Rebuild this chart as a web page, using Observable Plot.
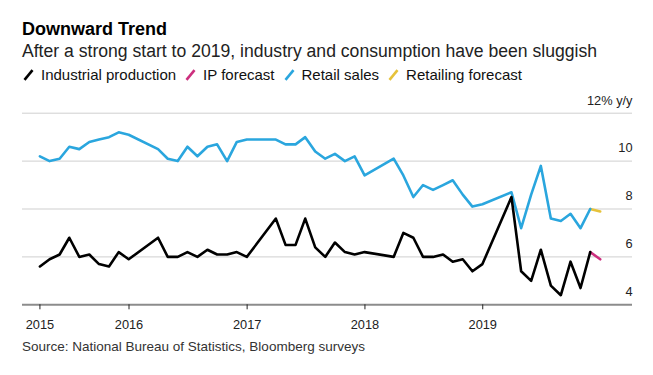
<!DOCTYPE html>
<html>
<head>
<meta charset="utf-8">
<script src="https://cdn.jsdelivr.net/npm/d3@7"></script>
<script src="https://cdn.jsdelivr.net/npm/@observablehq/plot@0.6"></script>
<style>
  body { margin: 0; background: #fff; font-family: "Liberation Sans", Arial, Helvetica, sans-serif; }
  #wrap { position: relative; width: 653px; height: 375px; overflow: hidden; background: #fff; }
  .t { position: absolute; left: 22px; white-space: nowrap; }
  #title { top: 19px; font-size: 18px; line-height: 20px; font-weight: bold; color: #000; }
  #subtitle { top: 40.5px; font-size: 17.6px; line-height: 20px; color: #222; }
  #legend { top: 66px; font-size: 15px; line-height: 18px; color: #111; display: flex; align-items: center; left: 23px; }
  #legend .item { display: flex; align-items: center; margin-right: 9px; }
  #legend svg { margin-right: 7px; }
  #chart { position: absolute; left: 0; top: 88px; }
  #source { top: 339px; font-size: 13.5px; line-height: 16px; color: #333; }
</style>
</head>
<body>
<div id="wrap">
  <div class="t" id="title">Downward Trend</div>
  <div class="t" id="subtitle">After a strong start to 2019, industry and consumption have been sluggish</div>
  <div class="t" id="legend"></div>
  <div id="chart"></div>
  <div class="t" id="source">Source: National Bureau of Statistics, Bloomberg surveys</div>
</div>
<script>
// Months (Jan/Feb not reported separately)
const months = [
  "2015-03","2015-04","2015-05","2015-06","2015-07","2015-08","2015-09","2015-10","2015-11","2015-12",
  "2016-03","2016-04","2016-05","2016-06","2016-07","2016-08","2016-09","2016-10","2016-11","2016-12",
  "2017-03","2017-04","2017-05","2017-06","2017-07","2017-08","2017-09","2017-10","2017-11","2017-12",
  "2018-03","2018-04","2018-05","2018-06","2018-07","2018-08","2018-09","2018-10","2018-11","2018-12",
  "2019-03","2019-04","2019-05","2019-06","2019-07","2019-08","2019-09","2019-10","2019-11"
];
const industrialProduction = [
  5.6,5.9,6.1,6.8,6.0,6.1,5.7,5.6,6.2,5.9,
  6.8,6.0,6.0,6.2,6.0,6.3,6.1,6.1,6.2,6.0,
  7.6,6.5,6.5,7.6,6.4,6.0,6.6,6.2,6.1,6.2,
  6.0,7.0,6.8,6.0,6.0,6.1,5.8,5.9,5.4,5.7,
  8.5,5.4,5.0,6.3,4.8,4.4,5.8,4.7,6.2
];
const retailSales = [
  10.2,10.0,10.1,10.6,10.5,10.8,10.9,11.0,11.2,11.1,
  10.5,10.1,10.0,10.6,10.2,10.6,10.7,10.0,10.8,10.9,
  10.9,10.7,10.7,11.0,10.4,10.1,10.3,10.0,10.2,9.4,
  10.1,9.4,8.5,9.0,8.8,9.0,9.2,8.6,8.1,8.2,
  8.7,7.2,8.6,9.8,7.6,7.5,7.8,7.2,8.0
];
const forecastMonths = ["2019-11","2019-12"];
const ipForecast = [6.2, 5.9];
const retailForecast = [8.0, 7.9];

const seriesNames = ["Industrial production","IP forecast","Retail sales","Retailing forecast"];
const seriesColors = ["#000000","#cc2f7e","#2aa6de","#e6c23a"];

const yTicks = [4, 6, 8, 10, 12];
const xTickLabels = ["2015","2016","2017","2018","2019"];

// month -> end-of-month date
const toDate = s => { const [y, m] = s.split("-").map(Number); return new Date(Date.UTC(y, m, 0)); };

const ipData = months.map((m, i) => ({date: toDate(m), value: industrialProduction[i]}));
const rsData = months.map((m, i) => ({date: toDate(m), value: retailSales[i]}));
const ipfData = forecastMonths.map((m, i) => ({date: toDate(m), value: ipForecast[i]}));
const rsfData = forecastMonths.map((m, i) => ({date: toDate(m), value: retailForecast[i]}));

const xTicks = xTickLabels.map((y, i) => i === 0 ? toDate(months[0]) : new Date(Date.UTC(+y, 0, 1)));

// legend
const legend = document.getElementById("legend");
seriesNames.forEach((name, i) => {
  const item = document.createElement("div");
  item.className = "item";
  item.innerHTML = `<svg width="11" height="12" viewBox="0 0 11 12"><line x1="1.5" y1="10.8" x2="9.5" y2="1.2" stroke="${seriesColors[i]}" stroke-width="2.6" stroke-linecap="butt"/></svg><span>${name}</span>`;
  legend.appendChild(item);
});

const chart = Plot.plot({
  width: 653,
  height: 250,
  marginLeft: 22,
  marginRight: 21,
  marginTop: 24.7,
  marginBottom: 33.7,
  style: {fontFamily: '"Liberation Sans", Arial, Helvetica, sans-serif', fontSize: "12.8px", color: "#222", background: "transparent"},
  x: {type: "utc", domain: [new Date(Date.UTC(2015, 1, 5)), new Date(Date.UTC(2020, 3, 9))]},
  y: {domain: [4, 12]},
  marks: [
    Plot.gridY(yTicks.filter(d => d > 4), {stroke: "#cfcfcf", strokeOpacity: 1, strokeWidth: 1}),
    Plot.ruleY([4], {stroke: "#8c8c8c", strokeWidth: 2}),
    Plot.axisX(xTicks, {tickSize: 5, tickPadding: 10.5, stroke: "#222", tickFormat: (d, i) => xTickLabels[i], label: null, fill: "#222"}),
    Plot.axisY(yTicks, {anchor: "right", tickSize: 0, tickPadding: 0, textAnchor: "end", dy: -12.8, label: null, fill: "#222",
      tickFormat: d => d === 12 ? "12% y/y" : String(d)}),
    Plot.line(rsfData, {x: "date", y: "value", stroke: seriesColors[3], strokeWidth: 2.6}),
    Plot.line(rsData, {x: "date", y: "value", stroke: seriesColors[2], strokeWidth: 2.6}),
    Plot.line(ipfData, {x: "date", y: "value", stroke: seriesColors[1], strokeWidth: 2.6}),
    Plot.line(ipData, {x: "date", y: "value", stroke: seriesColors[0], strokeWidth: 2.6})
  ]
});
document.getElementById("chart").appendChild(chart);
</script>
</body>
</html>
